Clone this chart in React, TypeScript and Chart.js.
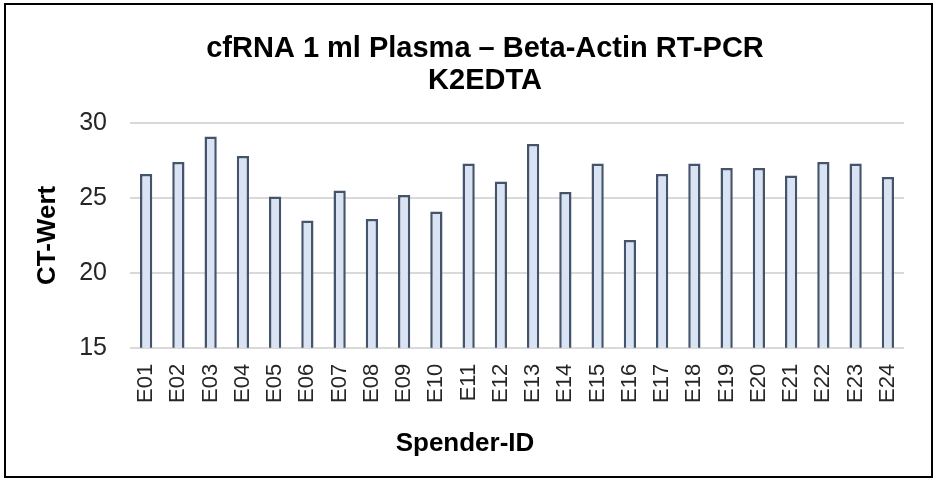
import React, { useEffect, useRef } from "react";
import { Chart, registerables } from "chart.js";

Chart.register(...registerables);

const categories = [
  "E01", "E02", "E03", "E04", "E05", "E06", "E07", "E08", "E09", "E10", "E11", "E12",
  "E13", "E14", "E15", "E16", "E17", "E18", "E19", "E20", "E21", "E22", "E23", "E24",
];
const ctValues = [
  26.6, 27.4, 29.1, 27.8, 25.1, 23.5, 25.5, 23.6, 25.2, 24.1, 27.3, 26.1,
  28.6, 25.4, 27.3, 22.2, 26.6, 27.3, 27.0, 27.0, 26.5, 27.4, 27.3, 26.4,
];
const titleLines = ["cfRNA 1 ml Plasma – Beta-Actin RT-PCR", "K2EDTA"];
const xAxisTitle = "Spender-ID";
const yAxisTitle = "CT-Wert";
const yMin = 15;
const yMax = 30;
const yStep = 5;

const FONT = '"Liberation Sans", Arial, Helvetica, sans-serif';

const textPlugin = {
  id: "excelTexts",
  afterDraw(chart: any) {
    const ctx = chart.ctx;
    ctx.save();
    ctx.fillStyle = "#000000";
    ctx.textAlign = "center";
    ctx.textBaseline = "alphabetic";
    ctx.font = `bold 29px ${FONT}`;
    ctx.fillText(titleLines[0], 485, 57);
    ctx.fillText(titleLines[1], 485, 89);
    ctx.font = `bold 26px ${FONT}`;
    ctx.fillText(xAxisTitle, 465, 451);
    ctx.restore();
  },
};

export default function App() {
  const canvasRef = useRef<HTMLCanvasElement | null>(null);

  useEffect(() => {
    if (!canvasRef.current) return;
    const chart = new Chart(canvasRef.current, {
      type: "bar",
      data: {
        labels: categories,
        datasets: [
          {
            label: yAxisTitle,
            data: ctValues,
            backgroundColor: "#dae3f3",
            borderColor: "#44546a",
            borderWidth: 2.5,
            barPercentage: 0.38,
            categoryPercentage: 1,
          },
        ],
      },
      plugins: [textPlugin],
      options: {
        responsive: false,
        animation: false,
        devicePixelRatio: 1,
        layout: { padding: { top: 123, bottom: 60, left: 18, right: 31 } },
        plugins: {
          legend: { display: false },
          tooltip: { enabled: false },
          title: { display: false },
        },
        scales: {
          x: {
            grid: { display: false, drawTicks: false },
            border: { display: false },
            ticks: {
              autoSkip: false,
              minRotation: 90,
              maxRotation: 90,
              padding: 16,
              color: "#262626",
              font: { family: FONT, size: 22 },
            },
          },
          y: {
            min: yMin,
            max: yMax,
            grid: { color: "#d9d9d9", lineWidth: 2, drawTicks: false },
            border: { display: false },
            ticks: {
              stepSize: yStep,
              padding: 23,
              color: "#262626",
              font: { family: FONT, size: 25 },
            },
            title: {
              display: true,
              text: yAxisTitle,
              color: "#000000",
              font: { family: FONT, size: 26, weight: "bold" },
              padding: { top: 14, bottom: -7 },
            },
          },
        },
      },
    });
    return () => chart.destroy();
  }, []);

  return (
    <div
      style={{
        position: "fixed",
        left: 0,
        top: 0,
        width: 935,
        height: 479,
        background: "#ffffff",
        overflow: "hidden",
      }}
    >
      <canvas
        ref={canvasRef}
        width={935}
        height={479}
        style={{ position: "absolute", left: 0, top: 0 }}
      />
      <div
        style={{
          position: "absolute",
          left: 4,
          top: 3,
          width: 929,
          height: 475,
          border: "2px solid #000000",
          boxSizing: "border-box",
          pointerEvents: "none",
        }}
      />
    </div>
  );
}
